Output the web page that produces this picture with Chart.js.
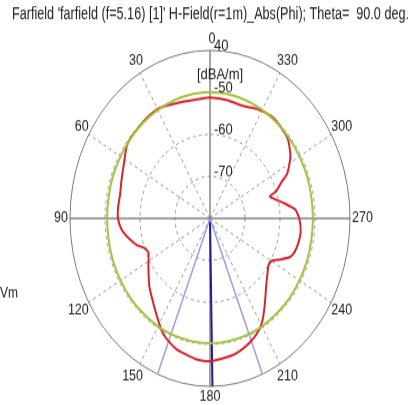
<!DOCTYPE html>
<html>
<head>
<meta charset="utf-8">
<script src="https://cdn.jsdelivr.net/npm/chart.js@4"></script>
<style>
  html, body { margin: 0; background: #fff; width: 413px; height: 405px; overflow: hidden; }
  #page { width: 413px; height: 405px; position: relative; }
  /* the reference plot is stretched vertically, so stretch the canvas the same way */
  #wrap { position: absolute; left: 0; top: 0; width: 413px; height: 338px; transform: scaleY(1.2); transform-origin: 0 0; }
</style>
</head>
<body>
<div id="page"><div id="wrap"><canvas id="farfield" width="413" height="338"></canvas></div></div>
<script>
const titleText = "Farfield 'farfield (f=5.16) [1]' H-Field(r=1m)_Abs(Phi); Theta=  90.0 deg.";
const unitText = '[dBA/m]';
const cutLegendText = 'Vm';

const angleTicks = [0, 30, 60, 90, 120, 150, 180, 210, 240, 270, 300, 330];
const ringValues = [-70, -60, -50, -40];
const ringLabels = ['-70', '-60', '-50', '40'];
const rMin = -80, rMax = -40;

// red: the farfield cut
const redPhi = [0, 6, 17, 29, 37, 49, 54, 63, 70, 78, 84, 90, 96, 100, 107, 111, 115, 123, 133, 141, 147, 153, 157, 163, 168, 174,
  180, 190, 195, 201, 208, 212, 218, 225, 232, 236, 240, 244, 248, 252, 257, 263, 270, 275, 280, 284, 287, 289, 293, 296, 303, 311, 323, 333, 340, 350];
const redDb = [-51.2, -51.4, -51.1, -50.0, -50.0, -50.3, -50.6, -52.3, -53.1, -53.7, -53.6, -53.7, -54.6, -55.8, -58.2, -60.1, -60.6, -59.0, -56.3, -54.2, -52.2, -49.8, -48.7, -47.4, -46.9, -46.2,
  -46.0, -46.7, -47.3, -48.3, -50.0, -51.6, -54.5, -57.3, -59.1, -59.9, -59.7, -57.7, -55.4, -54.5, -54.1, -53.9, -54.5, -55.6, -58.7, -61.0, -62.1, -60.0, -57.8, -55.4, -52.6, -50.7, -50.0, -50.7, -51.6, -51.4];

// green: reference level
const greenPhi = [0, 10, 20, 30, 40, 50, 60, 70, 80, 90, 100, 110, 120, 130, 140, 150, 160, 170,
  180, 190, 200, 210, 220, 230, 240, 250, 260, 270, 280, 290, 300, 310, 320, 330, 340, 350];
const greenDb = [-49.9, -50.0, -50.1, -50.2, -50.3, -50.4, -50.5, -50.5, -50.6, -50.6, -50.6, -50.5, -50.5, -50.4, -50.4, -50.3, -50.3, -50.3,
  -50.3, -50.3, -50.3, -50.3, -50.4, -50.4, -50.5, -50.5, -50.6, -50.6, -50.6, -50.5, -50.5, -50.4, -50.3, -50.2, -50.1, -50.0];

// blue: main lobe direction and 3 dB beam width
const mainLobePhi = [181];
const halfPowerPhi = [158, 202];

// one category per degree, running clockwise from the top (phi grows counter-clockwise)
const phiLabels = [];
for (let i = 0; i < 360; i++) phiLabels.push((360 - i) % 360);
const idx = p => (360 - p) % 360;

function spread(phis, vals) {
  const out = new Array(360).fill(null);
  phis.forEach((p, k) => { out[idx(p)] = vals[k]; });
  return out;
}
function rays(phis) {
  const out = new Array(360).fill(null);
  phis.forEach(p => { out[idx(p)] = rMax; out[(idx(p) + 1) % 360] = rMin; });
  return out;
}

const labelFont = '12.5px "Liberation Sans", Arial, sans-serif';
const tickFont = '13px "Liberation Sans", Arial, sans-serif';

const polarText = {
  id: 'polarText',
  afterDraw(chart) {
    const ctx = chart.ctx;
    const s = chart.scales.r;
    const R = s.drawingArea;
    ctx.save();
    ctx.fillStyle = '#222';

    // title, squeezed to the width it has in the plot
    ctx.font = '14px "Liberation Sans Narrow", "Liberation Sans", sans-serif';
    ctx.textAlign = 'center';
    ctx.textBaseline = 'middle';
    const w = ctx.measureText(titleText).width;
    ctx.save();
    ctx.translate(210.5, 12);
    ctx.scale(397 / w, 1);
    ctx.fillText(titleText, 0, 0);
    ctx.restore();

    // angle labels
    ctx.font = labelFont;
    angleTicks.forEach(p => {
      const pos = s.getPointPosition(idx(p), R);
      let x = pos.x, y = pos.y;
      let align = 'center', base = 'middle';
      if (p === 0) { base = 'bottom'; x += 2; y -= 3; }
      else if (p === 180) { base = 'top'; y += 2; }
      else if (p === 90) { align = 'right'; x -= 2; }
      else if (p === 270) { align = 'left'; x += 2; }
      else {
        align = p < 180 ? 'right' : 'left';
        base = (p < 90 || p > 270) ? 'bottom' : 'top';
        if (p % 60 !== 0) {
          x += p < 180 ? 3 : -3;
          y += base === 'bottom' ? -4 : 4;
        }
      }
      ctx.textAlign = align;
      ctx.textBaseline = base;
      ctx.fillText(String(p), x, y);
    });

    // ring values
    ctx.font = tickFont;
    ctx.textAlign = 'left';
    ctx.textBaseline = 'middle';
    ringValues.forEach((v, k) => {
      const d = s.getDistanceFromCenterForValue(v);
      ctx.fillText(ringLabels[k], s.xCenter + 4, s.yCenter - d - 3.5);
    });
    ctx.textAlign = 'center';
    ctx.fillText(unitText, s.xCenter + 10, 62.5);

    ctx.font = '12px "Liberation Sans", Arial, sans-serif';
    ctx.textAlign = 'left';
    ctx.fillText(cutLegendText, 0, 245);
    ctx.restore();
  }
};

const ctx = document.getElementById('farfield');
new Chart(ctx, {
  type: 'radar',
  data: {
    labels: phiLabels,
    datasets: [
      {
        label: 'reference',
        data: spread(greenPhi, greenDb),
        borderColor: '#a2c33a',
        borderWidth: 2,
        tension: 0.3,
        spanGaps: true
      },
      {
        label: 'Abs(Phi)',
        data: spread(redPhi, redDb),
        borderColor: '#d8232a',
        borderWidth: 2,
        tension: 0.2,
        spanGaps: true
      },
      {
        label: '3 dB beam width',
        data: rays(halfPowerPhi),
        borderColor: '#9b9be6',
        borderWidth: 1.5,
        spanGaps: false
      },
      {
        label: 'main lobe',
        data: rays(mainLobePhi),
        borderColor: '#1b1b9e',
        borderWidth: 2,
        spanGaps: false
      }
    ]
  },
  options: {
    responsive: false,
    animation: false,
    devicePixelRatio: 1,
    layout: { padding: { left: 70, right: 63, top: 42, bottom: 16 } },
    elements: {
      line: { fill: false, tension: 0 },
      point: { radius: 0, hoverRadius: 0 }
    },
    plugins: {
      legend: { display: false },
      tooltip: { enabled: false }
    },
    scales: {
      r: {
        min: rMin,
        max: rMax,
        beginAtZero: false,
        ticks: { stepSize: 10, display: false },
        pointLabels: { display: false },
        grid: {
          circular: true,
          color: c => c.tick && c.tick.value === rMax ? '#7a7a7a' : '#9a9a9a',
          lineWidth: 1
        },
        border: {
          dash: c => c.tick && c.tick.value === rMax ? [] : [3, 3]
        },
        angleLines: {
          color: c => phiLabels[c.index] % 90 === 0 ? '#4a4a4a' : '#9a9a9a',
          lineWidth: c => phiLabels[c.index] % 30 === 0 ? 1 : 0,
          borderDash: c => phiLabels[c.index] % 90 === 0 ? [] : [3, 3]
        }
      }
    }
  },
  plugins: [polarText]
});
</script>
</body>
</html>
